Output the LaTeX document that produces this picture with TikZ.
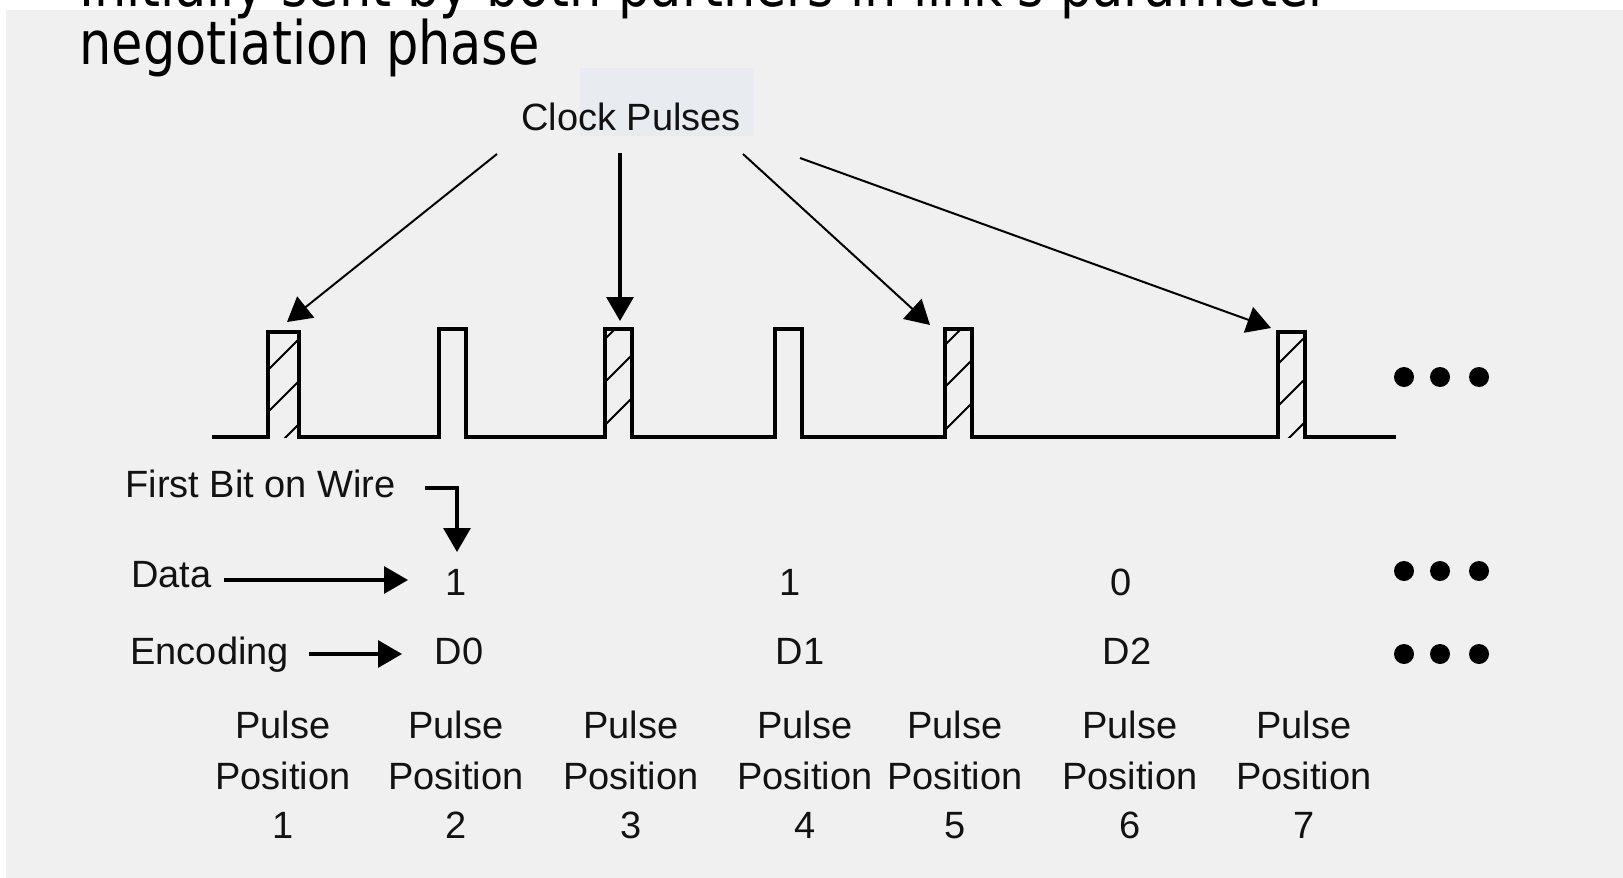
\documentclass[tikz,border=0pt]{standalone}
\usepackage{fontspec}
\usepackage{graphicx}
\setmainfont{Liberation Sans}
\newfontfamily\titlefont{DejaVu Sans}
\usetikzlibrary{arrows.meta}
\definecolor{panel}{RGB}{240,240,240}
\definecolor{tagbox}{RGB}{232,235,239}
\definecolor{ink}{RGB}{18,18,18}

\begin{document}
\begin{tikzpicture}[x=0.5pt,y=-0.5pt,
  lbl/.style={anchor=base, inner sep=0, font=\fontsize{19}{23}\selectfont, text=ink},
  lblw/.style={lbl, anchor=base west},
  ttl/.style={anchor=base west, inner sep=0, font=\titlefont\fontsize{30}{36}\selectfont},
  wave/.style={line width=1.6pt, line join=miter},
  hatch/.style={line width=1pt},
  arr/.style={line width=1.6pt, -{Triangle[length=12pt,width=13.5pt]}},
  darr/.style={line width=1pt, -{Triangle[length=12pt,width=13.5pt]}}
]
\useasboundingbox (0,0) rectangle (1623,878);
\fill[white] (0,0) rectangle (1623,878);
\fill[panel] (6,10) rectangle (1623,878);

% slide title
\node[ttl] (t1) at (79,6) {\scalebox{0.85}[1]{Initially sent by both partners in link's parameter}};
\node[ttl] (t2) at (79,64) {\scalebox{0.85}[1]{negotiation phase}};

% clock pulse caption
\fill[tagbox] (580,68) rectangle (754,136);
\node[lblw] (clk) at (521,130) {Clock Pulses};

% pulse train
\draw[wave] (212,437) -- (268,437) -- (268,332) -- (299,332) -- (299,437)
  -- (439,437) -- (439,329) -- (466,329) -- (466,437)
  -- (605,437) -- (605,329) -- (632,329) -- (632,437)
  -- (775,437) -- (775,329) -- (802,329) -- (802,437)
  -- (945,437) -- (945,329) -- (972,329) -- (972,437)
  -- (1278,437) -- (1278,332) -- (1305,332) -- (1305,437) -- (1396,437);

% hatching of the clock pulses
\begin{scope}
  \clip (268,332) rectangle (299,437);
  \foreach \c in {638,680,723} \draw[hatch] (\c-445,445) -- (\c-320,320);
\end{scope}
\begin{scope}
  \clip (605,329) rectangle (632,437);
  \foreach \c in {944,987,1030} \draw[hatch] (\c-445,445) -- (\c-320,320);
\end{scope}
\begin{scope}
  \clip (945,329) rectangle (972,437);
  \foreach \c in {1290,1332,1375} \draw[hatch] (\c-445,445) -- (\c-320,320);
\end{scope}
\begin{scope}
  \clip (1278,332) rectangle (1305,437);
  \foreach \c in {1642,1684,1727} \draw[hatch] (\c-445,445) -- (\c-320,320);
\end{scope}

% arrows from the caption to the clock pulses
\coordinate (cs1) at (497,154);
\coordinate (cs2) at (620,153);
\coordinate (cs3) at (743,154);
\coordinate (cs4) at (800,158);
\coordinate (ct1) at (287,322);
\coordinate (ct2) at (620,321);
\coordinate (ct3) at (930,325);
\coordinate (ct4) at (1271,328);
\draw[darr] (cs1) -- (ct1);
\draw[arr] (cs2) -- (ct2);
\draw[darr] (cs3) -- (ct3);
\draw[darr] (cs4) -- (ct4);

% row captions
\node[lblw] (fb) at (125,497) {First Bit on Wire};
\node[lblw] (data) at (131,587) {Data};
\node[lblw] (enc) at (130,664) {Encoding};

% data bits and encodings
\node[lbl] (b1) at (456,595) {1};
\node[lbl] (b2) at (790,595) {1};
\node[lbl] (b3) at (1121,595) {0};
\node[lbl] (e1) at (459,664) {D0};
\node[lbl] (e2) at (800,664) {D1};
\node[lbl] (e3) at (1127,664) {D2};

% caption arrows
\coordinate (fbs) at (425,488);
\coordinate (fbt) at (457,552);
\draw[arr] (fbs) -| (fbt);
\coordinate (das) at (224,580);
\coordinate (dat) at (408,580);
\draw[arr] (das) -- (dat);
\coordinate (ens) at (309,654);
\coordinate (ent) at (402,654);
\draw[arr] (ens) -- (ent);

% continuation marks
\foreach \y in {377,571,654}
  \foreach \x in {1404,1440,1479}
    \fill (\x,\y) circle[radius=10];

% pulse position labels
\foreach \i/\x in {1/283,2/456,3/631,4/805,5/955,6/1130,7/1304} {
  \node[lbl] (pa\i) at (\x,738) {Pulse};
  \node[lbl] (pb\i) at (\x,789) {Position};
  \node[lbl] (pc\i) at (\x,838) {\i};
}
\end{tikzpicture}
\end{document}
